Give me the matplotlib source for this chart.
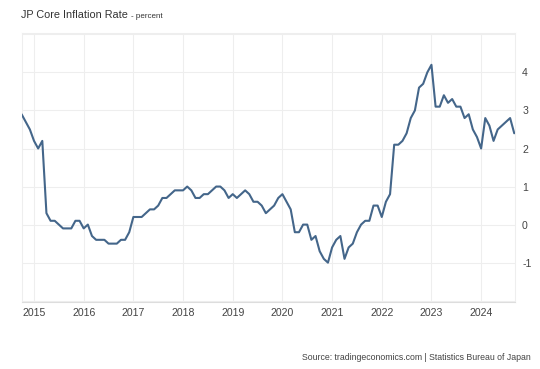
import numpy as np
import matplotlib
matplotlib.use('Agg')
import matplotlib.pyplot as plt

plt.rcParams['font.family'] = ['Liberation Sans', 'DejaVu Sans']

# Core CPI, monthly, Oct 2014 .. Sep 2024 (percent)
startYear = 2014
startMonth = 10
inflacion = [2.9, 2.7, 2.5,
             2.2, 2.0, 2.2, 0.3, 0.1, 0.1, 0.0, -0.1, -0.1, -0.1, 0.1, 0.1,
             -0.1, 0.0, -0.3, -0.4, -0.4, -0.4, -0.5, -0.5, -0.5, -0.4, -0.4, -0.2,
             0.2, 0.2, 0.2, 0.3, 0.4, 0.4, 0.5, 0.7, 0.7, 0.8, 0.9, 0.9,
             0.9, 1.0, 0.9, 0.7, 0.7, 0.8, 0.8, 0.9, 1.0, 1.0, 0.9, 0.7,
             0.8, 0.7, 0.8, 0.9, 0.8, 0.6, 0.6, 0.5, 0.3, 0.4, 0.5, 0.7,
             0.8, 0.6, 0.4, -0.2, -0.2, 0.0, 0.0, -0.4, -0.3, -0.7, -0.9, -1.0,
             -0.6, -0.4, -0.3, -0.9, -0.6, -0.5, -0.2, 0.0, 0.1, 0.1, 0.5, 0.5,
             0.2, 0.6, 0.8, 2.1, 2.1, 2.2, 2.4, 2.8, 3.0, 3.6, 3.7, 4.0,
             4.2, 3.1, 3.1, 3.4, 3.2, 3.3, 3.1, 3.1, 2.8, 2.9, 2.5, 2.3,
             2.0, 2.8, 2.6, 2.2, 2.5, 2.6, 2.7, 2.8, 2.4]

anios = [2015, 2016, 2017, 2018, 2019, 2020, 2021, 2022, 2023, 2024]
ticksY = [-1, 0, 1, 2, 3, 4]
lineasY = [-2, -1, 0, 1, 2, 3, 4, 5]

tiempo = startYear + (startMonth - 1) / 12 + np.arange(len(inflacion)) / 12

fig = plt.figure(figsize=(5.4, 3.69), dpi=100)
ax = fig.add_axes([0.040, 0.182, 0.914, 0.728])

ax.plot(tiempo, inflacion, color='#44668a', linewidth=1.5,
        solid_joinstyle='round', solid_capstyle='round', zorder=3)

ax.set_xlim(2014.75, 2024.685)
ax.set_ylim(-2.03, 5.03)

ax.set_xticks(anios)
ax.set_xticklabels([str(a) for a in anios])
ax.set_yticks(lineasY)
ax.set_yticklabels([str(v) if v in ticksY else '' for v in lineasY])
ax.yaxis.tick_right()
ax.tick_params(axis='both', length=0, labelsize=7.6, colors='#444444')
ax.tick_params(axis='x', pad=4.5)
ax.tick_params(axis='y', pad=5)
for lbl in ax.get_yticklabels():
    lbl.set_horizontalalignment('left')

ax.grid(True, color='#eeeeee', linewidth=0.8, zorder=0)
for lado in ['top', 'left', 'right']:
    ax.spines[lado].set_color('#eeeeee')
    ax.spines[lado].set_linewidth(0.8)
ax.spines['bottom'].set_color('#dddddd')
ax.spines['bottom'].set_linewidth(0.8)

titulo = fig.text(21 / 540, 1 - 18.5 / 369, 'JP Core Inflation Rate', fontsize=7.8,
                  color='#333333', va='baseline', ha='left')
fig.canvas.draw()
caja = titulo.get_window_extent(fig.canvas.get_renderer())
fig.text((caja.x1 + 3) / 540, 1 - 18.5 / 369, '- percent', fontsize=5.8,
         color='#333333', va='baseline', ha='left')
fig.text(531 / 540, 1 - 360 / 369,
         'Source: tradingeconomics.com | Statistics Bureau of Japan',
         fontsize=6.3, color='#444444', va='baseline', ha='right')

fig.savefig('out.png', dpi=100)
